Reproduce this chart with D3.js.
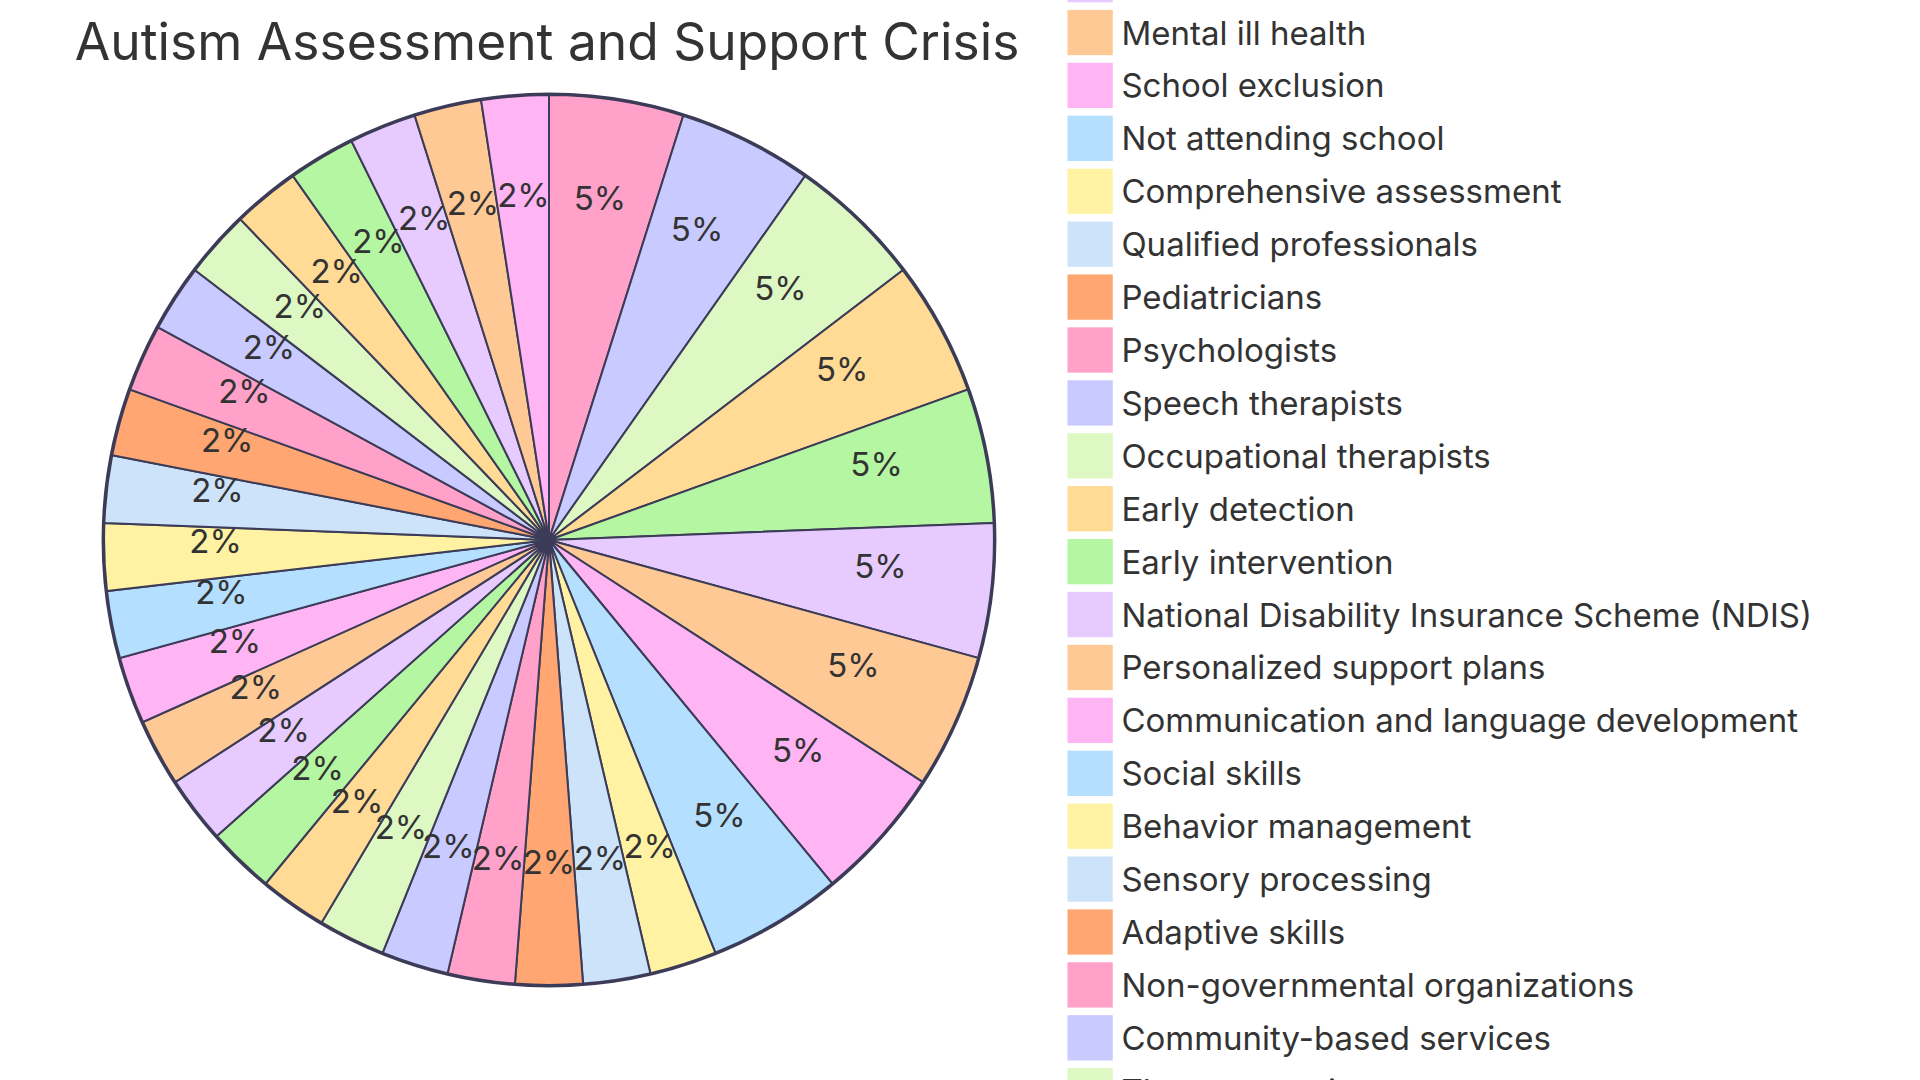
<!DOCTYPE html>
<html>
<head>
<meta charset="utf-8">
<script src="https://cdn.jsdelivr.net/npm/d3@7"></script>
<style>
  html, body { margin: 0; padding: 0; background: #ffffff; overflow: hidden; }
  svg { display: block; }
  text { font-family: Inter, "Noto Sans", sans-serif; fill: #333333; }
</style>
</head>
<body>
<svg id="chart" width="1920" height="1080"></svg>
<script>
// chart text and values
const title = 'Autism Assessment and Support Crisis';

const labels = [
  'Long waiting lists',
  'Cost of private assessment',
  'Lack of local services',
  'Late diagnosis',
  'Family stress',
  'Anxiety',
  'Mental ill health',
  'School exclusion',
  'Not attending school',
  'Comprehensive assessment',
  'Qualified professionals',
  'Pediatricians',
  'Psychologists',
  'Speech therapists',
  'Occupational therapists',
  'Early detection',
  'Early intervention',
  'National Disability Insurance Scheme (NDIS)',
  'Personalized support plans',
  'Communication and language development',
  'Social skills',
  'Behavior management',
  'Sensory processing',
  'Adaptive skills',
  'Non-governmental organizations',
  'Community-based services',
  'Therapy services',
  'Transition planning',
  'Family support',
  'Respite care',
  'Inclusive education',
  'Advocacy'
];

const values = [
  10, 10, 10, 10, 10, 10, 10, 10, 10,
  5, 5, 5, 5, 5, 5, 5, 5, 5, 5, 5, 5,
  5, 5, 5, 5, 5, 5, 5, 5, 5, 5, 5
];

const palette = [
  '#ffa1c9', '#c9caff', '#ddf8c2', '#ffdb96', '#b4f6a1', '#e7cbff',
  '#ffc996', '#ffb4f4', '#b4dfff', '#fff3a3', '#cce3fa', '#ffa672'
];

const data = labels.map((l, i) => ({label: l, value: values[i]}));

const svg = d3.select('#chart');

// pie drawn in a 450 unit box, blown up to the page
const s = 2.405;
const cx = 549, cy = 540;
const radius = 185 * s;

const color = d3.scaleOrdinal().domain(labels).range(palette);

const pie = d3.pie().value(d => d.value).sort(null);
const arcs = pie(data);
const total = d3.sum(values);

const arc = d3.arc().innerRadius(0).outerRadius(radius);
const labelArc = d3.arc().innerRadius(radius * 0.75).outerRadius(radius * 0.75);

const g = svg.append('g').attr('transform', 'translate(' + cx + ',' + cy + ')');

g.append('circle')
  .attr('r', radius)
  .attr('fill', 'none')
  .attr('stroke', '#3c3c58')
  .attr('stroke-width', 5);

g.selectAll('path.slice')
  .data(arcs)
  .enter().append('path')
  .attr('class', 'slice')
  .attr('d', arc)
  .attr('fill', d => color(d.data.label))
  .attr('stroke', '#3c3c58')
  .attr('stroke-width', 2);

g.selectAll('text.pct')
  .data(arcs)
  .enter().append('text')
  .attr('class', 'pct')
  .attr('transform', d => 'translate(' + labelArc.centroid(d) + ')')
  .attr('text-anchor', 'middle')
  .style('font-size', '33px')
  .text(d => (d.value / total * 100).toFixed(0) + '%');

g.append('text')
  .attr('x', -2)
  .attr('y', 60 - cy)
  .attr('text-anchor', 'middle')
  .style('font-size', '51.5px')
  .text(title);

// legend, centred on the pie and running off both edges
const n = labels.length;
const y = d3.scaleLinear().domain([0, n]).range([-n * 11 * s, n * 11 * s]);
const rect = 18 * s;

const legend = g.selectAll('g.legend')
  .data(color.domain())
  .enter().append('g')
  .attr('class', 'legend')
  .attr('transform', (d, i) => 'translate(' + (216 * s) + ',' + y(i) + ')');

legend.append('rect')
  .attr('width', rect)
  .attr('height', rect)
  .attr('fill', d => color(d))
  .attr('stroke', d => color(d))
  .attr('stroke-width', 2);

legend.append('text')
  .attr('x', 22 * s)
  .attr('y', 14 * s)
  .style('font-size', '33px')
  .text(d => d);
</script>
</body>
</html>
